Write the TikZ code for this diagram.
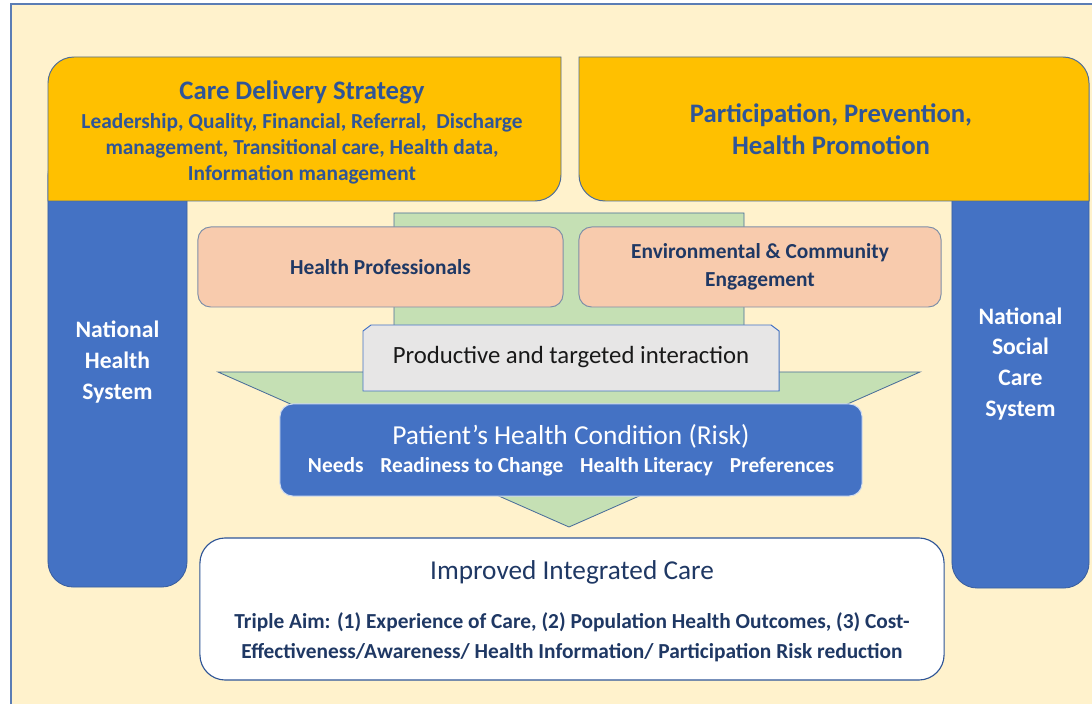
\documentclass[tikz,border=0pt]{standalone}
\usepackage{fontspec}
\setmainfont{Carlito}
\definecolor{cream}{HTML}{FFF2CC}
\definecolor{frameblue}{HTML}{5B7DB5}
\definecolor{gold}{HTML}{FFC000}
\definecolor{goldline}{HTML}{4F6E96}
\definecolor{royal}{HTML}{4472C4}
\definecolor{royalline}{HTML}{3A5F9F}
\definecolor{mint}{HTML}{C5E0B4}
\definecolor{mintline}{HTML}{4A6E9A}
\definecolor{peach}{HTML}{F8CBAD}
\definecolor{peachline}{HTML}{7F8FA8}
\definecolor{palegray}{HTML}{E7E6E6}
\definecolor{steeltext}{HTML}{2F5597}
\definecolor{navy}{HTML}{1F3864}
\begin{document}
\begin{tikzpicture}[x=0.025cm,y=0.025cm,
  column/.style={fill=royal, draw=royalline, line width=0.6pt, rounded corners=18pt, inner sep=0pt},
  coltext/.style={text=white, font=\bfseries\fontsize{16.8pt}{22pt}\selectfont, align=center},
  goldbox/.style={fill=gold, draw=goldline, line width=0.7pt},
  goldtitle/.style={text=steeltext, font=\bfseries\fontsize{19pt}{22.7pt}\selectfont, align=center},
  golddetail/.style={text=steeltext, font=\bfseries\fontsize{15.2pt}{18.4pt}\selectfont, align=center},
  peachbox/.style={fill=peach, draw=peachline, line width=0.7pt, rounded corners=9pt, inner sep=0pt,
    minimum height=2cm, text=navy, font=\bfseries\fontsize{15.2pt}{20pt}\selectfont, align=center},
  arrowshape/.style={fill=mint, draw=mintline, line width=0.6pt},
  snipbox/.style={fill=palegray, draw=royal, line width=0.7pt},
  condition/.style={fill=royal, draw=royal!25!white, line width=0.7pt, rounded corners=9pt, inner sep=0pt},
  outcome/.style={fill=white, draw=steeltext, line width=0.8pt, rounded corners=18pt, inner sep=0pt}]

% page, cream panel and its frame
\useasboundingbox (0,0) rectangle (1092,704);
\fill[white] (0,0) rectangle (1092,704);
\fill[cream] (11,0) rectangle (1092,700);
\draw[frameblue, line width=0.8pt] (11,0) -- (11,700) -- (1092,700);

% side pillars (their tops run under the gold boxes)
\node[column, minimum width=3.475cm, minimum height=10.925cm] (nhs) at (117.5,335.5) {};
\node[coltext] (nhsT) at (117.5,342) {National\\Health\\System};
\node[column, minimum width=3.425cm, minimum height=10.95cm] (nscs) at (1020.5,335) {};
\node[coltext] (nscsT) at (1020.5,340) {National\\Social\\Care\\System};

% gold boxes across the top
\draw[goldbox] (48,503) -- (48,621) arc[start angle=180, end angle=90, radius=26]
  -- (561,647) -- (561,529) arc[start angle=0, end angle=-90, radius=26] -- cycle;
\node[goldtitle] (cds) at (302,612) {Care Delivery Strategy};
\node[golddetail] (cdsT) at (302,555) {Leadership, Quality, Financial, Referral,\ \ Discharge\\
  management, Transitional care, Health data,\\ Information management};

\draw[goldbox] (579,647) -- (1063,647) arc[start angle=90, end angle=0, radius=26]
  -- (1089,503) -- (605,503) arc[start angle=270, end angle=180, radius=26] -- cycle;
\node[goldtitle] (pph) at (831,575) {Participation, Prevention,\\ Health Promotion};

% broad downward arrow
\draw[arrowshape] (394,491) -- (744,491) -- (744,332) -- (920,332) -- (569,177)
  -- (218,332) -- (394,332) -- cycle;

% contributors
\node[peachbox, minimum width=9.125cm] (hp) at (380.5,437) {Health Professionals};
\node[peachbox, minimum width=9.05cm] (env) at (760,437) {Environmental \& Community\\ Engagement};

% interaction box with snipped top corners
\draw[snipbox] (363,313) -- (363,373) -- (371,379) -- (771,379) -- (779,373) -- (779,313) -- cycle;
\node[text=black!90, font=\fontsize{17.6pt}{20pt}\selectfont] (pti) at (571,347) {Productive and targeted interaction};

% patient condition
\node[condition, minimum width=14.55cm, minimum height=2.3cm] (phc) at (571,254) {};
\node[text=white, font=\fontsize{19.5pt}{22pt}\selectfont] (phcT) at (571,268) {Patient’s Health Condition (Risk)};
\node[text=white, font=\bfseries\fontsize{15.2pt}{18pt}\selectfont] (phcD) at (571,237)
  {Needs\hspace{12pt}Readiness to Change\hspace{12pt}Health Literacy\hspace{12pt}Preferences};

% outcome
\node[outcome, minimum width=18.6cm, minimum height=3.55cm] (iic) at (572,95) {};
\node[text=navy, font=\fontsize{19.4pt}{22pt}\selectfont] (iicT) at (572,132) {Improved Integrated Care};
\node[text=navy, font=\bfseries\fontsize{15.2pt}{21.5pt}\selectfont, align=center] (iicD) at (572,66.5)
  {Triple Aim: (1) Experience of Care, (2) Population Health Outcomes, (3) Cost-\\
   Effectiveness/Awareness/ Health Information/ Participation Risk reduction};
\end{tikzpicture}
\end{document}
